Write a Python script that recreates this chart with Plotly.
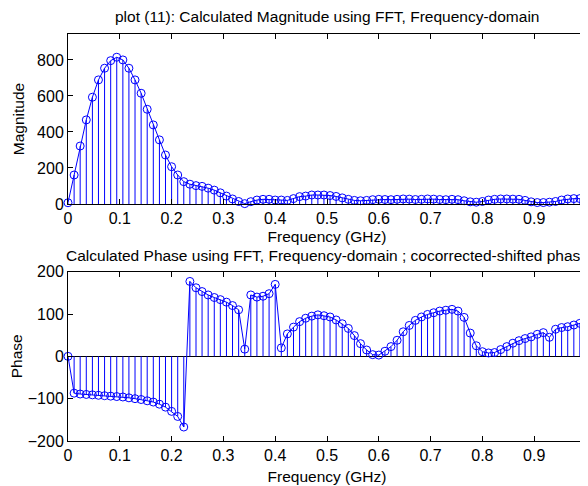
import plotly.graph_objects as go

# ---------------- data ----------------
freq_ghz = [0, 0.0118, 0.0235, 0.0353, 0.0471, 0.0588, 0.0706, 0.0824, 0.0941, 0.1059,
            0.1176, 0.1294, 0.1412, 0.1529, 0.1647, 0.1765, 0.1882, 0.2, 0.2118, 0.2235,
            0.2353, 0.2471, 0.2588, 0.2706, 0.2824, 0.2941, 0.3059, 0.3176, 0.3294, 0.3412,
            0.3529, 0.3647, 0.3765, 0.3882, 0.4, 0.4118, 0.4235, 0.4353, 0.4471, 0.4588,
            0.4706, 0.4824, 0.4941, 0.5059, 0.5176, 0.5294, 0.5412, 0.5529, 0.5647, 0.5765,
            0.5882, 0.6, 0.6118, 0.6235, 0.6353, 0.6471, 0.6588, 0.6706, 0.6824, 0.6941,
            0.7059, 0.7176, 0.7294, 0.7412, 0.7529, 0.7647, 0.7765, 0.7882, 0.8, 0.8118,
            0.8235, 0.8353, 0.8471, 0.8588, 0.8706, 0.8824, 0.8941, 0.9059, 0.9176, 0.9294,
            0.9412, 0.9529, 0.9647, 0.9765, 0.9882, 1.0]

magnitude = [7, 161, 322, 467, 593, 689, 754, 796, 815, 800,
             754, 689, 615, 526, 439, 356, 272, 207, 161, 124,
             110, 102, 98, 88, 77, 62, 44, 28, 14, 2,
             13, 22, 26, 26, 22, 22, 20, 30, 41, 44,
             50, 50, 50, 47, 42, 34, 26, 20, 18, 20,
             24, 26, 25, 24, 26, 28, 27, 25, 26, 28,
             27, 25, 24, 26, 24, 18, 12, 10, 14, 22,
             26, 28, 28, 27, 26, 20, 12, 8, 8, 10,
             14, 22, 28, 30, 30, 32]

phase = [0, -87, -89, -90, -91, -92, -93, -94, -95, -96,
         -98, -100, -102, -105, -108, -113, -120, -130, -142, -167,
         177, 162, 153, 145, 139, 134, 128, 120, 110, 17,
         145, 140, 142, 148, 170, 20, 53, 69, 82, 90,
         95, 98, 96, 93, 86, 77, 66, 49, 30, 15,
         4, 3, 12, 23, 38, 58, 73, 85, 93, 99,
         103, 107, 109, 111, 107, 92, 55, 25, 11, 8,
         9, 16, 23, 31, 37, 42, 46, 52, 56, 45,
         64, 68, 70, 74, 78, 82]

x_tick_vals = [0, 0.1, 0.2, 0.3, 0.4, 0.5, 0.6, 0.7, 0.8, 0.9, 1]
x_tick_text = ["0", "0.1", "0.2", "0.3", "0.4", "0.5", "0.6", "0.7", "0.8", "0.9", "1"]
mag_ticks = [0, 200, 400, 600, 800]
phase_ticks = [-200, -100, 0, 100, 200]

title_top = "plot (11): Calculated Magnitude using FFT, Frequency-domain"
title_bottom = "Calculated Phase using FFT, Frequency-domain ; cocorrected-shifted phase"
x_label = "Frequency (GHz)"

# ---------------- figure ----------------
BLUE = "#0000FF"
FONT = "Liberation Sans, Arial, sans-serif"
TXT = 15.5


def stem_segments(xs, ys):
    sx, sy = [], []
    for xv, yv in zip(xs, ys):
        sx += [xv, xv, None]
        sy += [0, yv, None]
    return sx, sy


fig = go.Figure()

for xa, ya, vals in (("x", "y", magnitude), ("x2", "y2", phase)):
    sx, sy = stem_segments(freq_ghz, vals)
    fig.add_trace(go.Scatter(x=sx, y=sy, mode="lines", xaxis=xa, yaxis=ya,
                             line=dict(color=BLUE, width=1), hoverinfo="skip",
                             showlegend=False))
    fig.add_trace(go.Scatter(x=freq_ghz, y=vals, mode="lines+markers", xaxis=xa, yaxis=ya,
                             line=dict(color=BLUE, width=1),
                             marker=dict(symbol="circle-open", size=8,
                                         color=BLUE, line=dict(width=1, color=BLUE)),
                             cliponaxis=False, showlegend=False))

axis_common = dict(showline=True, linecolor="black", linewidth=1, mirror="allticks",
                   ticks="inside", ticklen=5, tickcolor="black", showgrid=False,
                   automargin=False,
                   tickfont=dict(family=FONT, size=16, color="black"))

# The page body adds an 8px offset, so margins are set 8px smaller on left/top.
fig.update_layout(
    width=588, height=486,
    margin=dict(l=60, r=10, t=26, b=53),
    paper_bgcolor="white", plot_bgcolor="white",
    font=dict(family=FONT, size=TXT, color="black"),
    xaxis=dict(domain=[0, 1], range=[0, 1], anchor="y", tickvals=x_tick_vals,
               ticktext=x_tick_text, zeroline=False,
               title=dict(text=x_label, standoff=4, font=dict(size=TXT)), **axis_common),
    yaxis=dict(domain=[0.5823, 1], range=[0, 944], anchor="x", tickvals=mag_ticks,
               zeroline=False,
               title=dict(text="Magnitude", standoff=8, font=dict(size=TXT)), **axis_common),
    xaxis2=dict(domain=[0, 1], range=[0, 1], anchor="y2", tickvals=x_tick_vals,
                ticktext=x_tick_text, zeroline=False,
                title=dict(text=x_label, standoff=7, font=dict(size=TXT)), **axis_common),
    yaxis2=dict(domain=[0, 0.416], range=[-200, 200], anchor="x2", tickvals=phase_ticks,
                zeroline=True, zerolinecolor="black", zerolinewidth=1,
                title=dict(text="Phase", standoff=8, font=dict(size=TXT)), **axis_common),
    annotations=[
        dict(text=title_top, xref="paper", yref="paper", x=0.5, y=1.0442,
             xanchor="center", yanchor="middle", showarrow=False,
             font=dict(family=FONT, size=TXT, color="black")),
        dict(text=title_bottom, xref="paper", yref="paper", x=0.5, y=0.457,
             xanchor="center", yanchor="middle", showarrow=False,
             font=dict(family=FONT, size=TXT, color="black")),
    ],
)

fig.write_html("out.html")
